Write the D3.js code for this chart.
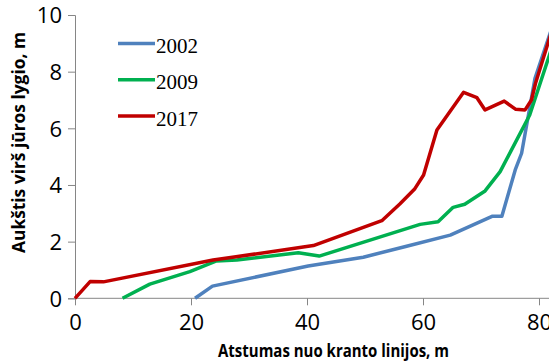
<!DOCTYPE html>
<html>
<head>
<meta charset="utf-8">
<script src="https://cdn.jsdelivr.net/npm/d3@7/dist/d3.min.js"></script>
<style>
    body { margin: 0; background: #fff; }
    svg { display: block; }
    .tick text { font-family: "Open Sans", sans-serif; font-size: 22px; fill: #000; }
    .axis path, .axis line { stroke: #868686; }
</style>
</head>
<body>
<div id="chart"></div>
<script>
// profile data
var years = ["2002", "2009", "2017"];
var colors = ["#4f81bd", "#00b050", "#c00000"];

var dist2002 = [20.7, 23.7, 40.2, 49.7, 57, 64.7, 72, 73.6, 75.9, 77, 79.3, 82];
var h2002    = [0, 0.43, 1.14, 1.45, 1.83, 2.23, 2.9, 2.9, 4.53, 5.12, 7.76, 9.41];

var dist2009 = [8.2, 12.9, 19.8, 24.4, 27.9, 38.5, 42.1, 59.5, 62.6, 65.2, 67.2, 70.7, 73.3, 78.4, 82];
var h2009    = [0, 0.5, 0.94, 1.32, 1.35, 1.61, 1.49, 2.61, 2.7, 3.21, 3.32, 3.79, 4.47, 6.47, 8.71];

var dist2017 = [0, 2.6, 4.9, 23.8, 41.1, 52.9, 56, 58.6, 60.1, 62.4, 67, 69.3, 70.7, 74, 76, 77.6, 78.7, 79.4, 82];
var h2017    = [0, 0.59, 0.58, 1.35, 1.86, 2.74, 3.33, 3.87, 4.35, 5.94, 7.27, 7.08, 6.65, 6.96, 6.67, 6.65, 7.0, 7.59, 9.3];

var xTicks = [0, 20, 40, 60, 80];
var yTicks = [0, 2, 4, 6, 8, 10];

var xTitle = "Atstumas nuo kranto linijos, m";
var yTitle = "Aukštis virš jūros lygio, m";

(function() {
    "use strict";
    var w = 549, h = 362;

    var series = [
        { name: years[0], x: dist2002, y: h2002 },
        { name: years[1], x: dist2009, y: h2009 },
        { name: years[2], x: dist2017, y: h2017 }
    ];

    var xScale = d3.scaleLinear().domain([0, 80]).range([75, 539]),
        yScale = d3.scaleLinear().domain([0, 10]).range([298.3, 15]);

    var svg = d3.select("#chart").append("svg")
        .attr("width", w)
        .attr("height", h);

    // axes
    var xAxis = d3.axisBottom(xScale)
        .tickValues(xTicks)
        .tickSizeOuter(0)
        .tickSize(7)
        .tickPadding(9);

    var yAxis = d3.axisLeft(yScale)
        .tickValues(yTicks)
        .tickSizeOuter(0)
        .tickSize(7)
        .tickPadding(6);

    var gx = svg.append("g")
        .attr("class", "axis")
        .attr("transform", "translate(0," + yScale(0) + ")")
        .call(xAxis);
    gx.select(".domain").remove();
    gx.append("line")
        .attr("x1", xScale(0)).attr("x2", w)
        .attr("y1", 0).attr("y2", 0)
        .attr("stroke", "#868686");

    var gy = svg.append("g")
        .attr("class", "axis")
        .attr("transform", "translate(" + xScale(0) + ",0)")
        .call(yAxis);
    gy.selectAll(".tick text").attr("dy", "0.36em");

    // lines
    var line = d3.line()
        .x(function(d) { return xScale(d[0]); })
        .y(function(d) { return yScale(d[1]); });

    svg.selectAll("path.series")
        .data(series)
        .enter()
        .append("path")
        .attr("class", "series")
        .attr("fill", "none")
        .attr("stroke", function(d, i) { return colors[i]; })
        .attr("stroke-width", 3.5)
        .attr("stroke-linejoin", "round")
        .attr("d", function(d) {
            return line(d.x.map(function(v, i) { return [v, d.y[i]]; }));
        });

    // legend
    var legend = svg.selectAll("g.legend")
        .data(series)
        .enter()
        .append("g")
        .attr("class", "legend")
        .attr("transform", function(d, i) { return "translate(118," + (43.5 + i * 36.3) + ")"; });

    legend.append("line")
        .attr("x1", 0).attr("x2", 37)
        .attr("stroke", function(d, i) { return colors[i]; })
        .attr("stroke-width", 3.5);

    legend.append("text")
        .attr("x", 38)
        .attr("y", 9.5)
        .style("font-family", "'Liberation Serif', 'Times New Roman', serif")
        .style("font-size", "21px")
        .text(function(d) { return d.name; });

    // axis titles
    svg.append("text")
        .attr("x", 333.5)
        .attr("y", 357)
        .attr("text-anchor", "middle")
        .attr("textLength", 231)
        .attr("lengthAdjust", "spacingAndGlyphs")
        .style("font-family", "'Open Sans', sans-serif")
        .style("font-weight", "bold")
        .style("font-size", "17px")
        .text(xTitle);

    svg.append("text")
        .attr("transform", "translate(25,142.5) rotate(-90)")
        .attr("text-anchor", "middle")
        .attr("textLength", 221)
        .attr("lengthAdjust", "spacingAndGlyphs")
        .style("font-family", "'Open Sans', sans-serif")
        .style("font-weight", "bold")
        .style("font-size", "17px")
        .text(yTitle);
}());
</script>
</body>
</html>
